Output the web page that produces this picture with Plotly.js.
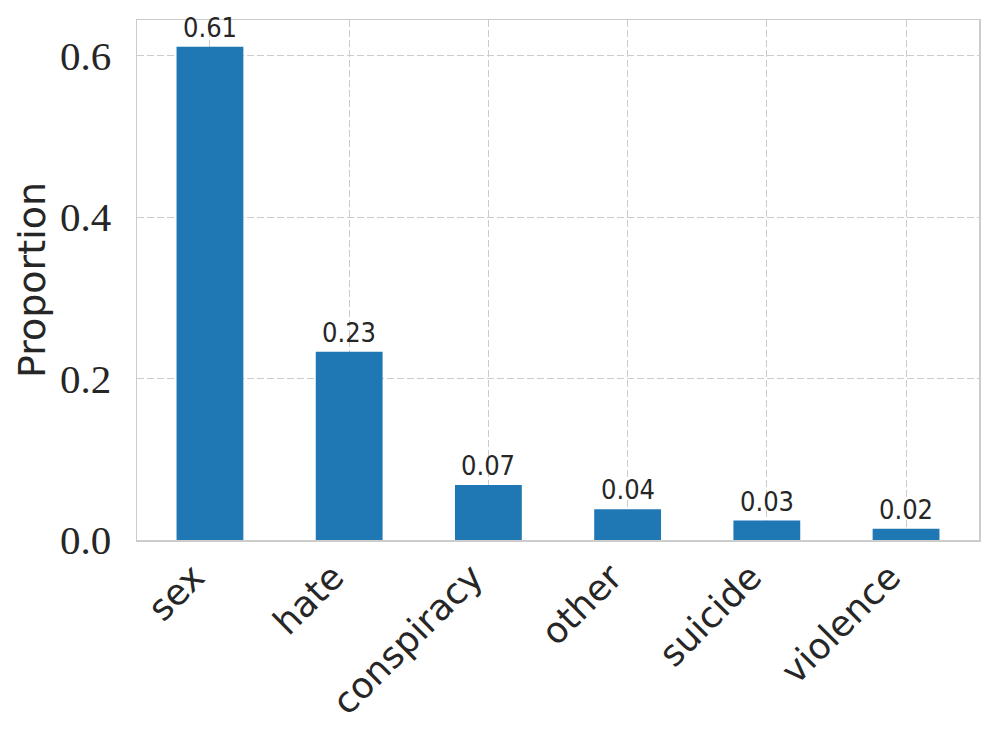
<!DOCTYPE html>
<html>
<head>
<meta charset="utf-8">
<script src="https://cdn.plot.ly/plotly-3.0.1.min.js"></script>
<style>html,body{margin:0;padding:0;background:#fff;}#chart{width:996px;height:735px;}</style>
</head>
<body>
<div id="chart"></div>
<script>
const categories = ["sex", "hate", "conspiracy", "other", "suicide", "violence"];
const proportions = [0.611, 0.233, 0.068, 0.038, 0.024, 0.014];
const valueLabels = ["0.61", "0.23", "0.07", "0.04", "0.03", "0.02"];
const yTicks = [0.0, 0.2, 0.4, 0.6];

const trace = {
  type: "bar",
  x: categories,
  y: proportions,
  width: 0.48,
  marker: {color: "#1f77b4"},
  hoverinfo: "skip"
};

const annotations = categories.map((c, i) => ({
  x: c, y: proportions[i], text: valueLabels[i],
  xref: "x", yref: "y", showarrow: false,
  yanchor: "bottom", yshift: 2,
  font: {family: "DejaVu Sans Condensed, DejaVu Sans", size: 27, color: "#262626"}
}));

const layout = {
  width: 996, height: 735,
  margin: {l: 137, r: 17, t: 20, b: 195},
  paper_bgcolor: "#fff", plot_bgcolor: "#fff",
  showlegend: false,
  xaxis: {
    type: "category",
    range: [-0.524, 5.524],
    tickangle: -45,
    tickfont: {family: "DejaVu Sans", size: 36, color: "#262626"},
    ticklabelshift: -16,
    showgrid: true, gridcolor: "#cccccc", griddash: "7px,3px", gridwidth: 1,
    showline: true, linecolor: "#cccccc", linewidth: 1.5, mirror: true,
    ticks: "", ticklen: 0,
    zeroline: false,
    fixedrange: true
  },
  yaxis: {
    range: [0, 0.644],
    tickvals: yTicks,
    tickformat: ".1f",
    tickfont: {family: "Liberation Serif", size: 41, color: "#262626"},
    ticks: "", ticklabelstandoff: 16,
    showgrid: true, gridcolor: "#cccccc", griddash: "7px,3px", gridwidth: 1,
    showline: true, linecolor: "#cccccc", linewidth: 1.5, mirror: true,
    zeroline: false,
    title: {text: "Proportion", font: {family: "DejaVu Sans", size: 38, color: "#262626"}, standoff: 2},
    fixedrange: true
  },
  annotations: annotations
};

Plotly.newPlot("chart", [trace], layout, {displayModeBar: false, staticPlot: true});
</script>
</body>
</html>
